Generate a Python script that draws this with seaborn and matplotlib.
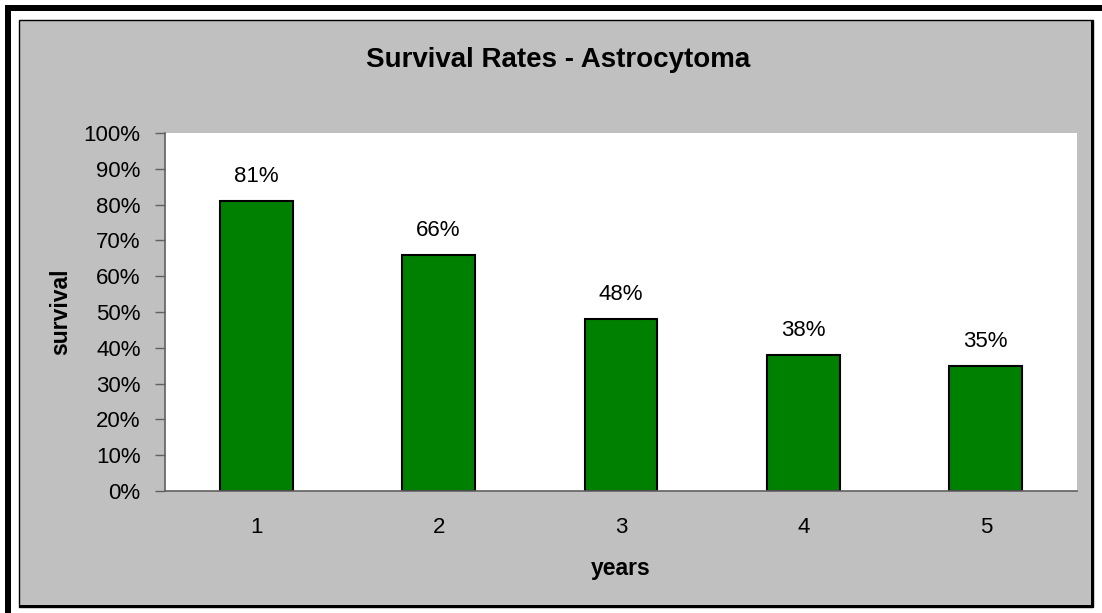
import matplotlib
matplotlib.use('Agg')
import matplotlib.pyplot as plt
import matplotlib.ticker as mticker
from matplotlib.patches import Rectangle
import pandas as pd
import seaborn as sns

# Data
years = ['1', '2', '3', '4', '5']
survival = [81, 66, 48, 38, 35]

df = pd.DataFrame({'years': years, 'survival': survival})

sns.set_style('white')
plt.rcParams['font.family'] = ['Liberation Sans', 'DejaVu Sans']
plt.rcParams['text.color'] = 'black'
plt.rcParams['axes.labelcolor'] = 'black'

W, H = 1102, 613
fig = plt.figure(figsize=(W / 100, H / 100), dpi=100, facecolor='white')


def box(x0, y0, x1, y1, **kw):
    # pixel coords (top-left origin) -> figure fraction
    fig.patches.append(Rectangle((x0 / W, 1 - y1 / H), (x1 - x0) / W, (y1 - y0) / H,
                                 transform=fig.transFigure, figure=fig, zorder=-10, **kw))


# outer frame
box(5, 5, W, 11, facecolor='black', edgecolor='none')
box(5, 5, 11, H, facecolor='black', edgecolor='none')
box(19, 20, 1093, 607, facecolor='#C0C0C0', edgecolor='black', linewidth=1)
box(1091, 20, 1094, 608, facecolor='black', edgecolor='none')
box(19, 605, 1094, 608, facecolor='black', edgecolor='none')

ax = fig.add_axes([165 / W, 1 - 491 / H, (1077 - 165) / W, (491 - 133) / H])
ax.set_facecolor('white')

sns.barplot(data=df, x='years', y='survival', color='#008000', width=0.4,
            edgecolor='black', linewidth=1.5, saturation=1, ax=ax)

for i, v in enumerate(survival):
    ax.annotate(f'{v}%', (i, v), xytext=(0, 10), textcoords='offset points',
                ha='center', va='bottom', fontsize=16, color='black')

ax.set_ylim(0, 100)
ax.set_xlim(-0.5, 4.5)
ax.yaxis.set_major_locator(mticker.MultipleLocator(10))
ax.yaxis.set_major_formatter(mticker.FuncFormatter(lambda v, p: f'{v:.0f}%'))
ax.set_xticks(range(5))
ax.set_xticks([i - 0.5 for i in range(6)], minor=True)
ax.tick_params(axis='x', which='major', length=0, pad=18.5, labelsize=16, colors='black')
ax.tick_params(axis='x', which='minor', length=6, width=1, color='#606060', direction='out')
ax.tick_params(axis='y', length=7, width=1, color='#606060', direction='out', pad=10.5,
               labelsize=16, labelcolor='black', left=True)

for s in ['top', 'right']:
    ax.spines[s].set_visible(False)
for s in ['left', 'bottom']:
    ax.spines[s].set_color('#606060')
    ax.spines[s].set_linewidth(1.2)

ax.set_xlabel('years', fontsize=16.5, fontweight='bold', labelpad=14)
ax.set_ylabel('survival', fontsize=16.5, fontweight='bold', labelpad=8.5)

fig.text(558 / W, 1 - 60 / H, 'Survival Rates - Astrocytoma', ha='center', va='center',
         fontsize=20, fontweight='bold')

fig.savefig('out.png', dpi=100, facecolor='white')
